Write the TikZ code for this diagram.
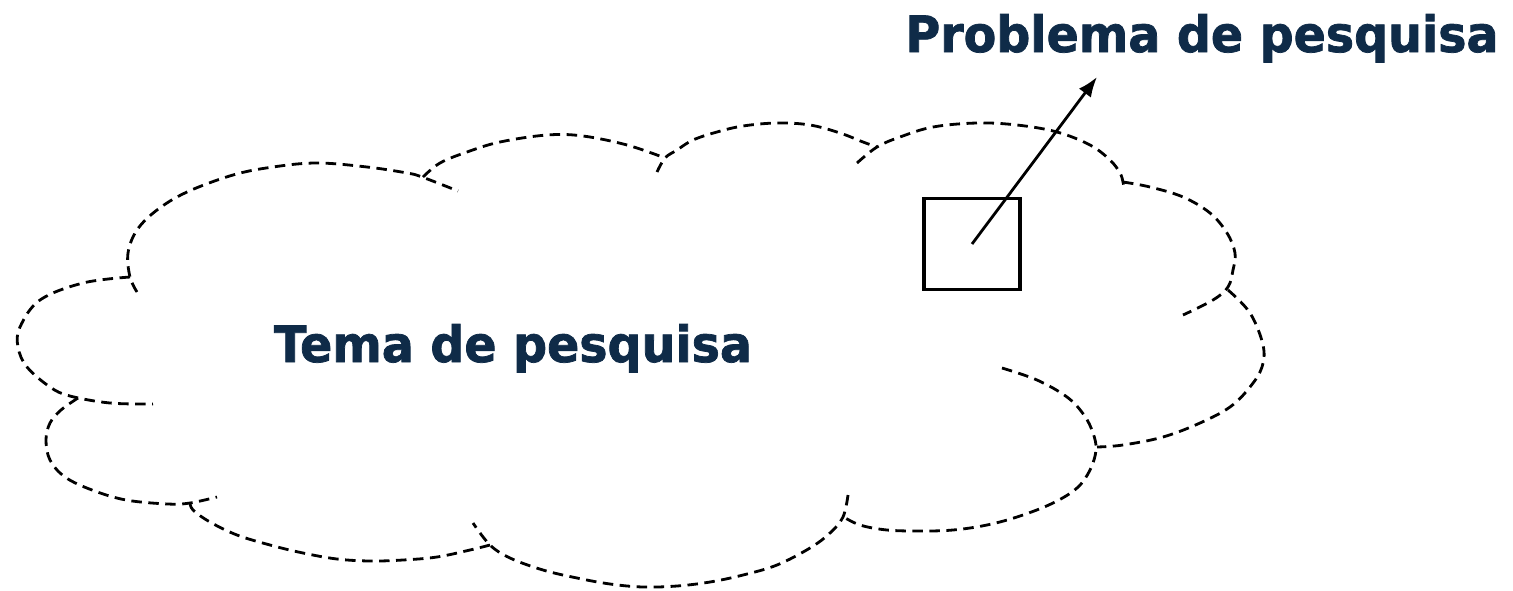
\documentclass[tikz,border=0pt]{standalone}
\usepackage{fontspec}
\setmainfont{DejaVu Sans}
\newfontfamily\titlefont[FakeStretch=0.95,FakeBold=1.5]{DejaVu Sans Bold}
\usetikzlibrary{arrows.meta}
\definecolor{navy}{RGB}{15,43,72}
\tikzset{
  cloudline/.style={line width=2.8pt, dash pattern=on 10.5pt off 6.5pt, line cap=butt},
  label/.style={font=\titlefont\fontsize{50}{56}\selectfont, text=navy, inner sep=0pt},
  probbox/.style={draw, line width=3.6pt, minimum width=96pt, minimum height=91pt, inner sep=0pt},
  arrowline/.style={line width=2.8pt, -{Latex[length=20pt,width=15pt]}}
}
\begin{document}
\begin{tikzpicture}[x=1pt,y=-1pt]
\useasboundingbox (0,0) rectangle (1513,590);
% cloud lobes
\draw[cloudline] plot[smooth,tension=0.6] coordinates {(130,277) (83,283) (40,300) (20,327) (18,347) (27,367) (50,387) (70,396) (110,403) (153,404)};
\draw[cloudline] plot[smooth,tension=0.6] coordinates {(137,292) (130,277) (128,253) (137,230) (157,210) (187,192) (233,175) (273,167) (317,163) (367,167) (407,173) (422,177) (458,191)};
\draw[cloudline] plot[smooth,tension=0.6] coordinates {(423,177) (440,163) (467,152) (500,142) (547,135) (583,136) (627,145) (665,158)};
\draw[cloudline] plot[smooth,tension=0.6] coordinates {(657,172) (665,158) (677,150) (693,140) (717,132) (743,126) (777,123) (810,125) (840,133) (863,142) (877,147)};
\draw[cloudline] plot[smooth,tension=0.6] coordinates {(857,163) (877,147) (900,137) (933,127) (977,123) (1017,125) (1057,132) (1090,145) (1110,160) (1120,173) (1123,182) (1124,188)};
\draw[cloudline] plot[smooth,tension=0.6] coordinates {(1123,182) (1150,187) (1183,197) (1210,213) (1227,233) (1235,253) (1233,270) (1228,287) (1213,300) (1183,315)};
\draw[cloudline] plot[smooth,tension=0.6] coordinates {(1228,290) (1250,313) (1263,345) (1262,367) (1250,387) (1230,407) (1200,423) (1163,437) (1123,445) (1097,447)};
\draw[cloudline] plot[smooth,tension=0.6] coordinates {(1002,368) (1037,380) (1067,397) (1084,415) (1093,433) (1096,450) (1090,470) (1077,488) (1053,503) (1020,516) (987,525) (953,530) (920,531) (887,530) (860,525) (842,516)};
\draw[cloudline] plot[smooth,tension=0.6] coordinates {(848,495) (843,517) (830,533) (810,548) (777,565) (743,575) (710,582) (677,586) (643,587) (610,584) (577,578) (543,570) (510,558) (490,545) (473,523)};
\draw[cloudline] plot[smooth,tension=0.6] coordinates {(490,545) (470,550) (437,557) (403,560) (370,561) (337,559) (303,553) (270,545) (237,535) (210,522) (193,510) (190,502)};
\draw[cloudline] plot[smooth,tension=0.6] coordinates {(78,398) (61,410) (50,423) (46,440) (50,460) (65,477) (92,490) (126,500) (168,504) (190,503) (217,497)};
% texts
\node[label, anchor=base] (tema) at (513,362) {Tema de pesquisa};
\node[label, anchor=base] (problema) at (1202,52) {Problema de pesquisa};
% box and arrow
\node[probbox] (box) at (972,244) {};
\coordinate (tip) at (1097,77);
\draw[arrowline] (box.center) -- (tip);
\end{tikzpicture}
\end{document}
